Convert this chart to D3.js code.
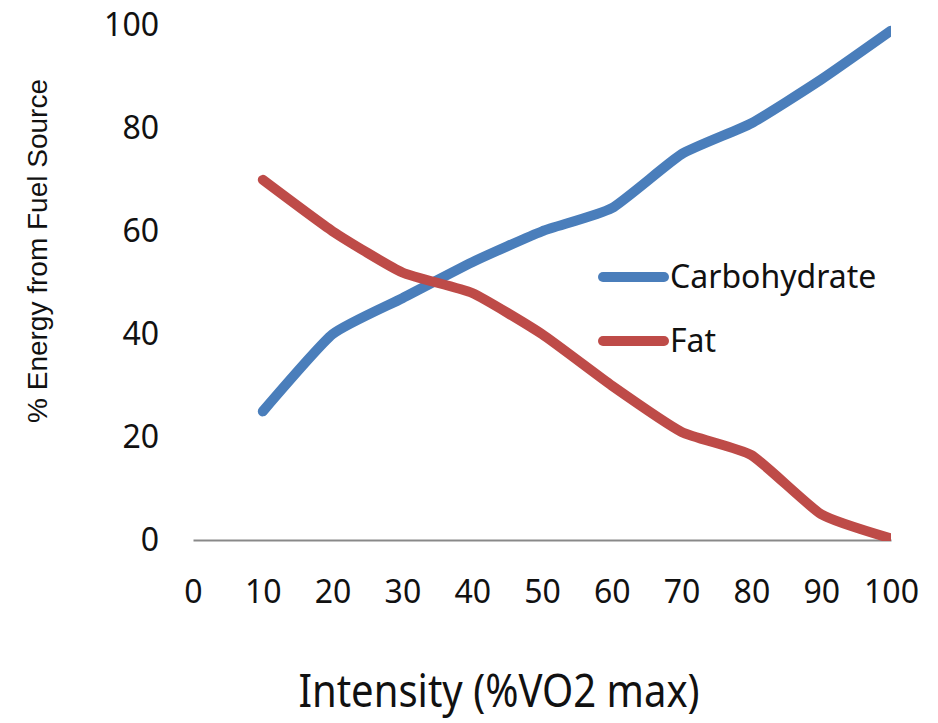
<!DOCTYPE html>
<html>
<head>
<meta charset="utf-8">
<script src="https://cdn.jsdelivr.net/npm/d3@7"></script>
<style>
  html, body { margin: 0; padding: 0; background: #fff; }
  svg { display: block; }
</style>
</head>
<body>
<script>
// values
const intensity = [10, 20, 30, 40, 50, 60, 70, 80, 90, 100];
const carbohydrate = [25, 40, 47, 54, 60, 64.5, 75, 81, 89.5, 99];
const fat = [70, 60, 52, 48, 40, 30, 21, 16.5, 5, 0.3];
const seriesNames = ["Carbohydrate", "Fat"];
const xTicks = [0, 10, 20, 30, 40, 50, 60, 70, 80, 90, 100];
const yTicks = [0, 20, 40, 60, 80, 100];

const width = 938;
const height = 723;
const colors = ["#4a7ebb", "#be4b48"];
const tickFont = "'Noto Sans', sans-serif";

const svg = d3.select("body").append("svg")
  .attr("width", width)
  .attr("height", height);

const x = d3.scaleLinear().domain([0, 100]).range([193, 891]);
const y = d3.scaleLinear().domain([0, 100]).range([540, 25.5]);

// x axis (gray line, no tick marks)
const xAxis = svg.append("g")
  .attr("transform", `translate(0,${y(0)})`)
  .call(d3.axisBottom(x).tickValues(xTicks).tickSize(0).tickSizeOuter(0).tickPadding(40));
xAxis.select(".domain").attr("stroke", "#898989").attr("stroke-width", 2);
xAxis.selectAll("text")
  .attr("font-family", tickFont)
  .attr("font-size", 32)
  .attr("fill", "#111");

// y axis (labels only)
const yAxis = svg.append("g")
  .attr("transform", `translate(${x(0)},0)`)
  .call(d3.axisLeft(y).tickValues(yTicks).tickSize(0).tickPadding(34));
yAxis.select(".domain").remove();
yAxis.selectAll("text")
  .attr("font-family", tickFont)
  .attr("font-size", 32)
  .attr("fill", "#111");

svg.append("defs").append("clipPath")
  .attr("id", "plot")
  .append("rect")
  .attr("x", x(0))
  .attr("y", 10)
  .attr("width", x(100) - x(0))
  .attr("height", y(0) + 1 - 10);

const line = d3.line()
  .x(d => x(d[0]))
  .y(d => y(d[1]))
  .curve(d3.curveCardinal.tension(0.5));

const series = [carbohydrate, fat];

svg.append("g")
  .attr("clip-path", "url(#plot)")
  .selectAll("path")
  .data(series)
  .enter().append("path")
  .attr("d", vals => line(intensity.map((v, i) => [v, vals[i]])))
  .attr("fill", "none")
  .attr("stroke", (d, i) => colors[i])
  .attr("stroke-width", 10)
  .attr("stroke-linecap", "round")
  .attr("stroke-linejoin", "round");

// legend
const legend = svg.append("g")
  .selectAll("g")
  .data(seriesNames)
  .enter().append("g")
  .attr("transform", (d, i) => `translate(598,${277 + i * 64})`);

legend.append("line")
  .attr("x1", 5).attr("x2", 66)
  .attr("stroke", (d, i) => colors[i])
  .attr("stroke-width", 10)
  .attr("stroke-linecap", "round");

legend.append("text")
  .attr("x", 72)
  .attr("y", 11)
  .attr("font-family", tickFont)
  .attr("font-size", 32)
  .attr("fill", "#111")
  .text(d => d);

// axis titles
svg.append("text")
  .attr("transform", "translate(47,251) rotate(-90)")
  .attr("text-anchor", "middle")
  .attr("font-family", "'Liberation Sans', Arial, sans-serif")
  .attr("font-size", 28)
  .attr("fill", "#111")
  .text("% Energy from Fuel Source");

// narrow title: condensed horizontally to match the original's width
svg.append("text")
  .attr("transform", "translate(499,707) scale(0.87,1)")
  .attr("text-anchor", "middle")
  .attr("font-family", tickFont)
  .attr("font-size", 46)
  .attr("fill", "#111")
  .text("Intensity (%VO2 max)");
</script>
</body>
</html>
